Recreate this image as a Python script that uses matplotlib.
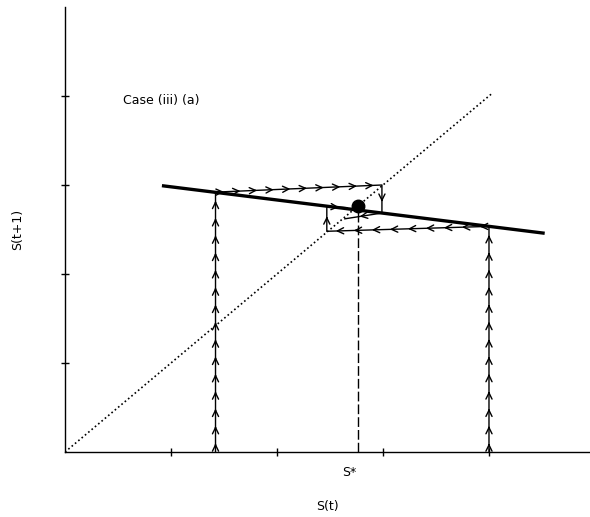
import numpy as np
import matplotlib
matplotlib.use("Agg")
import matplotlib.pyplot as plt

# reaction line S(t+1) = f(S(t))
line_x = [0.93, 4.51]
line_y = [2.99, 2.46]

# fixed point
s_star = 2.76

# cobweb paths (vertices) and arrow counts per segment
left_path_x = [1.42, 1.42, 2.99, 2.99, 2.64]
left_path_y = [0.0, 2.92, 3.00, 2.685, 2.62]
left_arrows = [15, 10, 1, 1]

right_path_x = [4.0, 4.0, 2.47, 2.47, 2.66]
right_path_y = [0.0, 2.535, 2.48, 2.76, 2.745]
right_arrows = [13, 9, 1, 1]

diag_end = 4.03
x_ticks = [1, 2, 3, 4]
y_ticks = [1, 2, 3, 4]


def draw_path(ax, xs, ys, counts):
    ax.plot(xs, ys, color='black', lw=1.0, zorder=3)
    for i, n in enumerate(counts):
        p0 = np.array([xs[i], ys[i]])
        p1 = np.array([xs[i + 1], ys[i + 1]])
        d = (p1 - p0) / np.hypot(*(p1 - p0))
        fracs = [(k + 0.5) / n for k in range(n)] if n > 1 else [0.6]
        for f in fracs:
            tip = p0 + f * (p1 - p0)
            ax.annotate('', xy=tip, xytext=tip - 0.03 * d,
                        arrowprops=dict(arrowstyle='->,head_length=0.45,head_width=0.22',
                                        color='black', lw=1.0,
                                        shrinkA=0, shrinkB=0),
                        zorder=4)


fig = plt.figure(figsize=(5.9, 5.17), dpi=100)
ax = fig.add_axes([65 / 590, 65 / 517, 525 / 590, 445 / 517])

ax.set_xlim(0, 4.953)
ax.set_ylim(0, 5.0)
for s in ['top', 'right']:
    ax.spines[s].set_visible(False)
for s in ['left', 'bottom']:
    ax.spines[s].set_linewidth(1.0)

ax.set_xticks(x_ticks)
ax.set_yticks(y_ticks)
ax.set_xticklabels([])
ax.set_yticklabels([])
ax.tick_params(direction='inout', length=6, width=1.0)

# 45 degree line
ax.plot([0, diag_end], [0, diag_end], color='black', lw=1.2,
        linestyle=(0, (1, 1.6)), zorder=2)

# reaction line
ax.plot(line_x, line_y, color='black', lw=2.4, zorder=3)

draw_path(ax, left_path_x, left_path_y, left_arrows)
draw_path(ax, right_path_x, right_path_y, right_arrows)

# S* marker
ax.plot([s_star, s_star], [0, s_star], color='black', lw=1.0,
        linestyle=(0, (7, 2.2)), zorder=2)
ax.plot([s_star], [s_star], 'o', color='black', markersize=9, zorder=5)

ax.text(0.55, 3.955, 'Case (iii) (a)', fontsize=9, va='center', ha='left')
ax.text(2.686, -0.047, 'S*', fontsize=9, ha='center', va='center',
        transform=ax.get_xaxis_transform())

ax.set_xlabel('S(t)', fontsize=9, labelpad=28)
ax.set_ylabel('S(t+1)', fontsize=9, labelpad=23)

fig.savefig('out.png', dpi=100)
